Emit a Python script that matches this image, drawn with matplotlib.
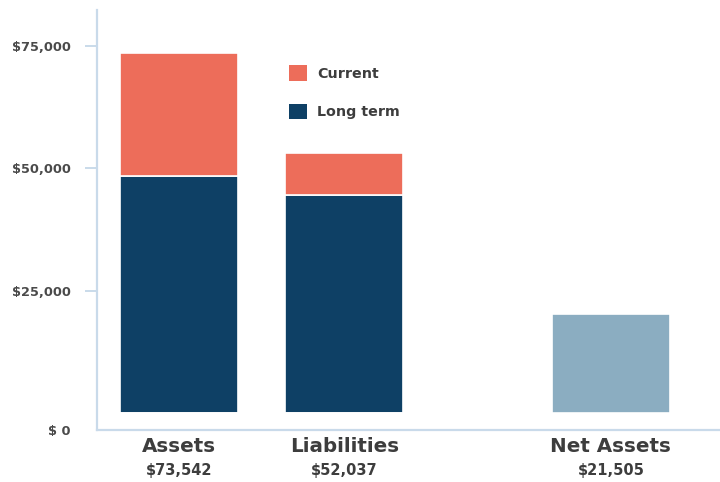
import matplotlib
matplotlib.use("Agg")
import matplotlib.pyplot as plt
import matplotlib.transforms as mtransforms
from matplotlib.patches import Patch

# ---- data ----
categories = ["Assets", "Liabilities", "Net Assets"]
total_labels = ["$73,542", "$52,037", "$21,505"]
long_term = [48500, 44500, 0]
current = [25042, 8600, 0]
net_assets = [0, 0, 20200]
ytick_values = [0, 25000, 50000, 75000]
ytick_labels = ["$ 0", "$25,000", "$50,000", "$75,000"]

# ---- style ----
C_CURRENT = "#ED6D5A"
C_LONG = "#0E4065"
C_NET = "#8BADC1"
C_AXIS = "#C9DAEA"
C_TEXT = "#3d3d3d"
FONT = "DejaVu Sans"

xpos = [0, 1, 2.61]
width = 0.713

fig = plt.figure(figsize=(7.2, 4.82), dpi=100)
ax = fig.add_axes([97/720, 1 - 430/482, 1 - 97/720, (430 - 10)/482])

ax.bar(xpos, long_term, width, color=C_LONG, edgecolor="white", linewidth=1.2, label="Long term")
ax.bar(xpos, current, width, bottom=long_term, color=C_CURRENT, edgecolor="white", linewidth=1.2, label="Current")
ax.bar(xpos, net_assets, width, color=C_NET, edgecolor="white", linewidth=1.2)

ax.set_xlim(-0.495, 3.269)
ax.set_ylim(-3470, 82330)

for s in ["top", "right"]:
    ax.spines[s].set_visible(False)
for s in ["left", "bottom"]:
    ax.spines[s].set_color(C_AXIS)
    ax.spines[s].set_linewidth(1.6)

ax.set_yticks(ytick_values)
ax.set_yticklabels(ytick_labels, fontsize=9.3, fontweight="bold", color="#4a4a4a", family=FONT)
ax.tick_params(axis="y", length=9, width=1.4, color=C_AXIS, pad=10)

# shift "$ 0" label down to the axis line, hide its tick mark
t0 = ax.yaxis.get_major_ticks()[0]
t0.tick1line.set_visible(False)
t0.label1.set_transform(t0.label1.get_transform() +
                        mtransforms.ScaledTranslation(0, -17/100, fig.dpi_scale_trans))

ax.set_xticks(xpos)
ax.set_xticklabels(categories, fontsize=14.3, fontweight="bold", color=C_TEXT, family=FONT)
ax.tick_params(axis="x", length=0, pad=5)

trans = mtransforms.blended_transform_factory(ax.transData, fig.transFigure)
for x, lab in zip(xpos, total_labels):
    ax.text(x, 1 - 471/482, lab, transform=trans, ha="center", va="center",
            fontsize=10.5, fontweight="bold", color=C_TEXT, family=FONT)

handles = [Patch(facecolor=C_CURRENT, label="Current"),
           Patch(facecolor=C_LONG, label="Long term")]
leg = ax.legend(handles=handles, loc="upper left", bbox_to_anchor=(0.2873, 0.8986),
                bbox_transform=ax.transAxes, frameon=False, handlelength=1.25, handleheight=1.25,
                labelspacing=1.6, handletextpad=0.75,
                prop={"family": FONT, "weight": "bold", "size": 10.3})
for t in leg.get_texts():
    t.set_color(C_TEXT)

fig.savefig("out.png", dpi=100)
